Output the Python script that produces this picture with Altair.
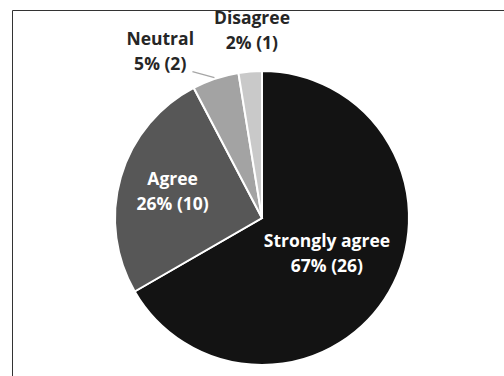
import math
import altair as alt
import pandas as pd

# Survey responses
categories = ["Strongly agree", "Agree", "Neutral", "Disagree"]
counts = [26, 10, 2, 1]
percents = [67, 26, 5, 2]
shades = ["#131313", "#575757", "#a3a3a3", "#c9c9c9"]

total = sum(counts)

df = pd.DataFrame({
    "category": categories,
    "count": counts,
    "rank": list(range(len(categories))),
    "label": [f"{c}\n{p}% ({n})" for c, p, n in zip(categories, percents, counts)],
})

W, H = 484, 316
R = 147
theta_scale = alt.Scale(domain=[0, total], range=[0, 2 * math.pi])

pie = alt.Chart(df).mark_arc(outerRadius=R, stroke="white", strokeWidth=2).encode(
    theta=alt.Theta("count:Q", stack=True, scale=theta_scale),
    order=alt.Order("rank:Q"),
    color=alt.Color("category:N", scale=alt.Scale(domain=categories, range=shades), legend=None),
)

# mid-angle of each slice, computed before any per-label filtering
mids = alt.Chart(df).transform_window(
    cum="sum(count)", sort=[alt.SortField("rank")], frame=[None, 0]
).transform_calculate(mid="datum.cum - datum.count / 2")

LINE = 25


def label_layer(cat, radius, color, dx=0, dy=0):
    # shift up by half a line so the two-line block is centred on its anchor
    return mids.transform_filter(alt.datum.category == cat).mark_text(
        radius=radius, dx=dx, dy=dy - LINE / 2, font="Open Sans", fontWeight="bold",
        fontSize=17.5, lineHeight=LINE, lineBreak="\n", color=color,
        align="center", baseline="middle",
    ).encode(
        theta=alt.Theta("mid:Q", stack=False, scale=theta_scale),
        text="label:N",
    )


labels = [
    label_layer("Strongly agree", 75, "white", dy=-1),
    label_layer("Agree", 93, "white"),
    label_layer("Neutral", 173, "#262626", dx=-47, dy=-1),
    label_layer("Disagree", 187, "#262626", dx=5),
]

# leader line from the Neutral label to the edge of its slice
cx, cy = W / 2, H / 2
neutral_mid = (sum(counts[:2]) + counts[2] / 2) / total * 2 * math.pi
ex = cx + R * math.sin(neutral_mid)
ey = cy - R * math.cos(neutral_mid)
leader = alt.Chart(pd.DataFrame({"k": [0]})).mark_rule(color="#a6a6a6", strokeWidth=1.2).encode(
    x=alt.value(ex - 23), y=alt.value(ey - 7), x2=alt.value(ex - 1), y2=alt.value(ey - 1)
)

frame = alt.Chart(pd.DataFrame({"k": [0]})).mark_rect(
    fillOpacity=0, stroke="#333333", strokeWidth=1
).encode(
    x=alt.value(-7.5), y=alt.value(-49.5), x2=alt.value(700), y2=alt.value(600)
)

chart = alt.layer(frame, pie, leader, *labels).properties(
    width=W,
    height=H,
    padding={"left": 20, "top": 60, "right": 0, "bottom": 0},
    autosize=alt.AutoSizeParams(type="none"),
    background="white",
).configure_view(stroke=None)

chart.save("out.html", embed_options={"renderer": "svg", "actions": False})
